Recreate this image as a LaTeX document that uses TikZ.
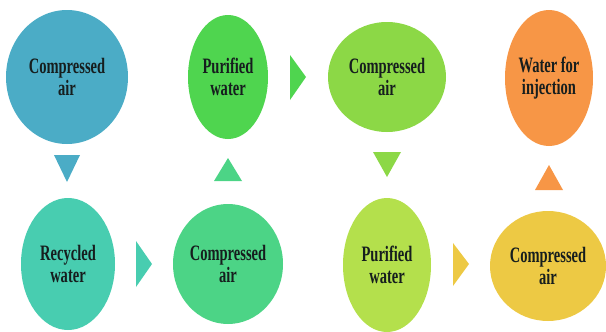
\documentclass[tikz,border=0pt]{standalone}
\usepackage{fontspec}
\setmainfont{Liberation Serif}[FakeStretch=0.66]
\usetikzlibrary{shapes.geometric}

\definecolor{cBlue}{HTML}{4BACC6}
\definecolor{cGreen}{HTML}{4FD54F}
\definecolor{cLime}{HTML}{8CD846}
\definecolor{cOrange}{HTML}{F79646}
\definecolor{cTeal}{HTML}{48CDB0}
\definecolor{cMint}{HTML}{4CD486}
\definecolor{cYelGreen}{HTML}{B4E04C}
\definecolor{cYellow}{HTML}{EDC944}
\definecolor{cInk}{HTML}{161E1E}

\tikzset{
  stage/.style={ellipse, draw=none, inner sep=0pt, align=center,
    text=cInk, font=\fontsize{22}{22.5}\selectfont\bfseries},
}

\begin{document}
\begin{tikzpicture}[x=1pt, y=-1pt]
\useasboundingbox (0,0) rectangle (606,332);

% top row
\node[stage, fill=cBlue,   minimum width=122pt, minimum height=134pt] (a1) at (67,77)  {Compressed\\air};
\node[stage, fill=cGreen,  minimum width=80pt,  minimum height=124pt] (a2) at (228,77) {Purified\\water};
\node[stage, fill=cLime,   minimum width=118pt, minimum height=110pt] (a3) at (387,77) {Compressed\\air};
\node[stage, fill=cOrange, minimum width=88pt,  minimum height=136pt] (a4) at (549,78) {Water for\\injection};

% bottom row
\node[stage, fill=cTeal,     minimum width=94pt,  minimum height=132pt] (b1) at (68,264)  {Recycled\\water};
\node[stage, fill=cMint,     minimum width=110pt, minimum height=120pt] (b2) at (228,264) {Compressed\\air};
\node[stage, fill=cYelGreen, minimum width=88pt,  minimum height=134pt] (b3) at (387,265) {Purified\\water};
\node[stage, fill=cYellow,   minimum width=116pt, minimum height=110pt] (b4) at (548,266) {Compressed\\air};

% flow markers between the stages
\fill[cBlue]     (54,155) -- (80,155) -- (67,182) -- cycle;   % a1 -> b1
\fill[cTeal]     (136,241) -- (152,264) -- (136,287) -- cycle; % b1 -> b2
\fill[cMint]     (214,181) -- (242,181) -- (228,158) -- cycle; % b2 -> a2
\fill[cGreen]    (290,55) -- (306,77) -- (290,100) -- cycle;   % a2 -> a3
\fill[cLime]     (373,152) -- (401,152) -- (387,177) -- cycle; % a3 -> b3
\fill[cYellow]   (453,243) -- (469,264) -- (453,286) -- cycle; % b3 -> b4
\fill[cOrange]   (535,190) -- (563,190) -- (549,165) -- cycle; % b4 -> a4
\end{tikzpicture}
\end{document}
